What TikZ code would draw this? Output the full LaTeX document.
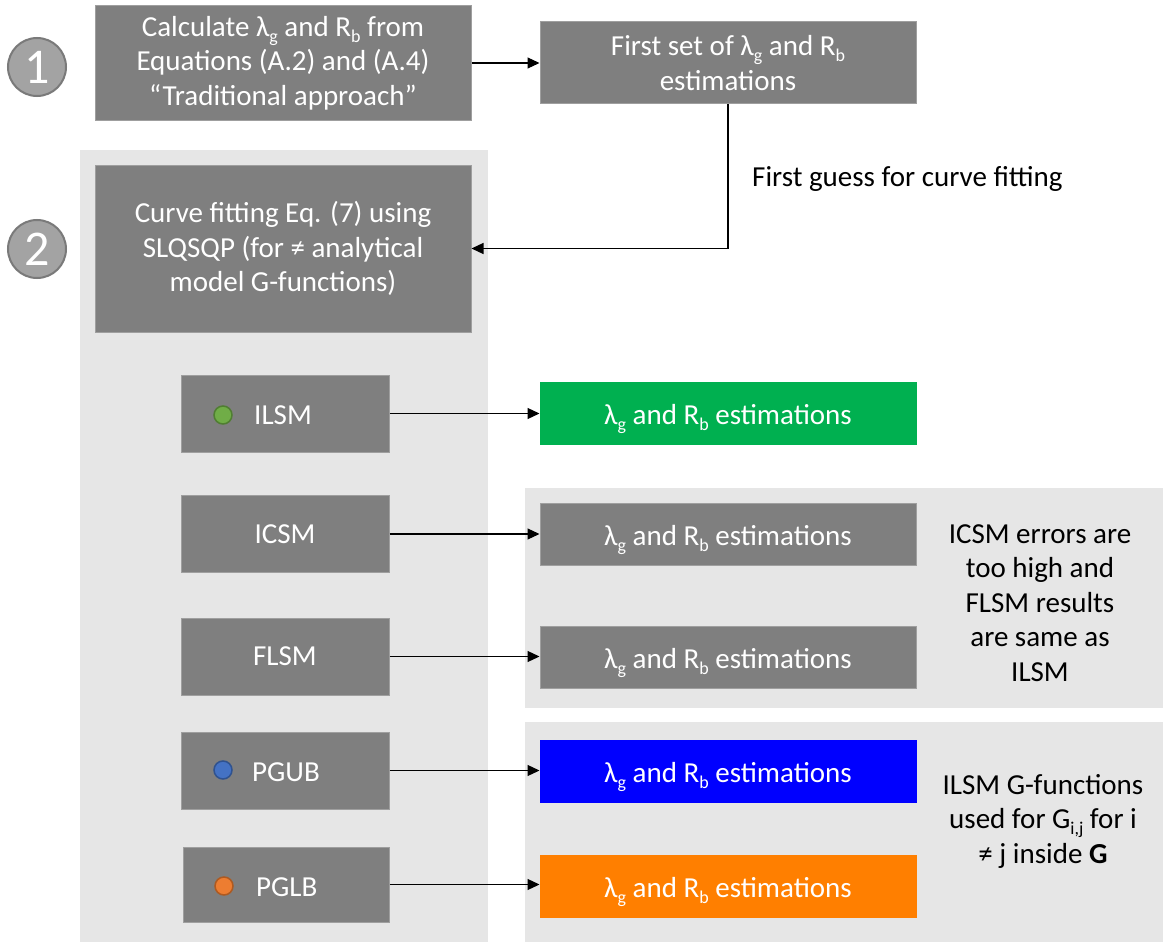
\documentclass[tikz,border=0pt]{standalone}
\usepackage{fontspec}
\setmainfont{Carlito}
\usetikzlibrary{arrows.meta}
\definecolor{boxgray}{HTML}{7F7F7F}
\definecolor{panelgray}{HTML}{E6E6E6}
\definecolor{circgray}{HTML}{A3A3A3}
\definecolor{circedge}{HTML}{7A7A7A}
\definecolor{resgreen}{HTML}{00B050}
\definecolor{resblue}{HTML}{0000FF}
\definecolor{resorange}{HTML}{FF7F00}
\definecolor{dotgreen}{HTML}{70AD47}
\definecolor{dotgreenedge}{HTML}{507E32}
\definecolor{dotblue}{HTML}{4472C4}
\definecolor{dotblueedge}{HTML}{2F528F}
\definecolor{dotorange}{HTML}{ED7D31}
\definecolor{dotorangeedge}{HTML}{AE5A21}
\newcommand{\mysub}[1]{\raisebox{-0.45ex}{\fontsize{18}{18}\selectfont #1}}
\newcommand{\lamRb}{λ\mysub{g} and R\mysub{b}}
\tikzset{
  txt/.style={font=\fontsize{29}{34.5}\selectfont},
  gbox/.style={txt, fill=boxgray, draw=boxgray!75!white, line width=1pt, text=white, align=center, inner sep=0pt},
  resbox/.style={gbox, minimum width=376pt, minimum height=62pt, text height=23pt, text depth=0pt},
  smallbox/.style={gbox, minimum width=208pt, minimum height=77pt},
  stepcirc/.style={circle, fill=circgray, draw=circedge, line width=2pt, minimum size=58pt, inner sep=0pt, text=white, font=\fontsize{50}{50}\selectfont},
  dot/.style={circle, line width=1.5pt, minimum size=18pt, inner sep=0pt},
  arr/.style={-{Triangle[length=12pt,width=11pt]}, line width=1.2pt, black},
  note/.style={txt, align=center, text=black},
}
\begin{document}
\begin{tikzpicture}[x=1pt,y=-1pt]
\useasboundingbox (0,0) rectangle (1163,942);
\fill[white] (0,0) rectangle (1163,942);
% panels
\fill[panelgray] (80,150) rectangle (488,942);
\fill[panelgray] (525,488) rectangle (1163,708);
\fill[panelgray] (525,722) rectangle (1163,942);
% step circles
\node[stepcirc] (c1) at (37,67) {1};
\node[stepcirc] (c2) at (37,249) {2};
% top boxes
\node[gbox, minimum width=376pt, minimum height=114pt] (A) at (283,63)
  {Calculate \lamRb{} from\\Equations (A.2) and (A.4)\\“Traditional approach”};
\node[gbox, minimum width=376pt, minimum height=82pt] (B) at (728,63)
  {First set of \lamRb\\estimations};
\node[gbox, minimum width=376pt, minimum height=167pt] (C) at (283,248.5)
  {Curve fitting Eq. (7) using\\SLQSQP (for ≠ analytical\\model G-functions)};
% model boxes
\node[smallbox] (ilsm) at (285,413.5) {};
\node[smallbox] (icsm) at (285,534) {ICSM};
\node[smallbox] (flsm) at (285,656.5) {FLSM};
\node[smallbox] (pgub) at (285,770.5) {};
\node[smallbox, minimum width=206pt, minimum height=75pt] (pglb) at (286,884.5) {};
\node[dot, fill=dotgreen, draw=dotgreenedge] (dg) at (223,415) {};
\node[dot, fill=dotblue, draw=dotblueedge] (db) at (223,770) {};
\node[dot, fill=dotorange, draw=dotorangeedge] (do) at (224,886) {};
\node[txt, text=white, anchor=west, inner sep=0pt] (ilsmt) at (254,415) {ILSM};
\node[txt, text=white, anchor=west, inner sep=0pt] (pgubt) at (252,772) {PGUB};
\node[txt, text=white, anchor=west, inner sep=0pt] (pglbt) at (256,887) {PGLB};
% result boxes
\node[resbox, fill=resgreen, draw=resgreen] (rg) at (728,413) {\lamRb{} estimations};
\node[resbox] (r1) at (728,534) {\lamRb{} estimations};
\node[resbox] (r2) at (728,657) {\lamRb{} estimations};
\node[resbox, fill=resblue, draw=resblue] (rb) at (728,771) {\lamRb{} estimations};
\node[resbox, fill=resorange, draw=resorange] (ro) at (728,886) {\lamRb{} estimations};
% notes
\node[note] (n1) at (1040,603) {ICSM errors are\\too high and\\FLSM results\\are same as\\ILSM};
\node[note] (n2) at (1043,821) {ILSM G-functions\\used for G\mysub{i,j} for i\\≠ j inside \textbf{G}};
% connectors
\draw[arr] (A.east) -- (A.east -| B.west);
\draw[arr] (B.south) |- (C.east);
\node[txt, anchor=west, inner sep=0pt] (lbl) at (752,179) {First guess for curve fitting};
\draw[arr] (ilsm.east) -- (ilsm.east -| rg.west);
\draw[arr] (icsm.east) -- (icsm.east -| r1.west);
\draw[arr] (flsm.east) -- (flsm.east -| r2.west);
\draw[arr] (pgub.east) -- (pgub.east -| rb.west);
\draw[arr] (pglb.east) -- (pglb.east -| ro.west);
\end{tikzpicture}
\end{document}
